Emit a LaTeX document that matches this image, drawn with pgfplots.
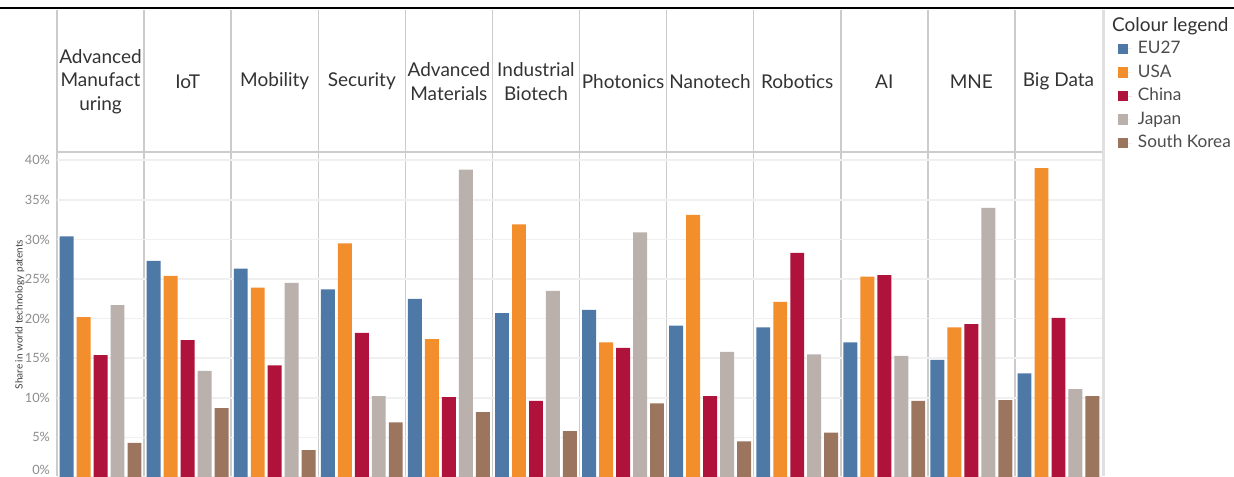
\documentclass[border=0pt]{standalone}
\usepackage{pgfplots}
\pgfplotsset{compat=1.18}
\usepackage{pgfplotstable}
\usepackage{fontspec}
\setmainfont{Lato}

\definecolor{eu}{HTML}{4E79A7}
\definecolor{us}{HTML}{F28E2B}
\definecolor{cn}{HTML}{AF123A}
\definecolor{jp}{HTML}{BAB0AC}
\definecolor{kr}{HTML}{9C755F}
\definecolor{sepgray}{HTML}{CCCCCC}
\definecolor{gridgray}{HTML}{F0F0F0}
\definecolor{tickgray}{HTML}{8C8C8C}
\definecolor{hdr}{HTML}{333333}

\pgfplotsset{sqleg/.style={legend image code/.code={%
  \fill[##1] (0pt,-2.6pt) rectangle (5.2pt,2.6pt);
  \path (0pt,0pt) -- (7.2pt,0pt);}}}

% share in world technology patents (%), one row per technology
\pgfplotstableread{
x eu us cn jp kr
0 30.4 20.2 15.4 21.7 4.3
1 27.3 25.4 17.3 13.4 8.7
2 26.3 23.9 14.1 24.5 3.4
3 23.7 29.5 18.2 10.2 6.9
4 22.5 17.4 10.1 38.8 8.2
5 20.7 31.9 9.6 23.5 5.8
6 21.1 17.0 16.3 30.9 9.3
7 19.1 33.1 10.2 15.8 4.5
8 18.9 22.1 28.3 15.5 5.6
9 17.0 25.3 25.5 15.3 9.6
10 14.8 18.9 19.3 34.0 9.7
11 13.1 39.0 20.1 11.1 10.2
}\datatable

\begin{document}
\begin{tikzpicture}[x=0.5pt,y=0.5pt]
  % top rule
  \draw[black, line width=1pt] (0,467.5) -- (1234,467.5);
  % column separators
  \foreach \k in {0,...,11}
    \draw[sepgray, line width=0.75pt] ({57+\k*87.083},466) -- ({57+\k*87.083},0);
  \draw[black!12, line width=1.5pt] (1103,466) -- (1103,0);
  \draw[sepgray, line width=0.75pt] (57,324) -- (1102,324);

  % headers
  \foreach \i/\t in {0/{Advanced\\Manufact\\uring},1/IoT,2/Mobility,3/Security,
      4/{Advanced\\Materials},5/{Industrial\\Biotech},6/Photonics,7/Nanotech,
      8/Robotics,9/AI,10/MNE,11/Big Data}
    \node[align=center, font=\fontsize{9.5}{11.75}\selectfont, text=hdr]
      at ({57+(\i+0.5)*87.083},394.5) {\t};

  \node[anchor=west, font=\fontsize{9.5}{11}\selectfont, text=hdr] at (1105,450) {Colour legend};

  \begin{axis}[
    at={(28.5pt,-0.5pt)}, anchor=south west,
    scale only axis, width=522.5pt, height=162.5pt,
    xmin=-0.5, xmax=11.5, ymin=0, ymax=41.04,
    ybar, bar width=0.16,
    xtick=\empty,
    ytick={5,10,...,40},
    extra y ticks={0},
    extra y tick style={yticklabel style={yshift=3.5pt}},
    yticklabel={\pgfmathprintnumber{\tick}\%},
    /pgf/number format/assume math mode=true,
    yticklabel style={font=\fontsize{6.4}{7}\selectfont, text=tickgray},
    major tick length=0pt,
    axis line style={draw=none},
    ymajorgrids, grid style={color=gridgray, line width=0.8pt},
    ylabel={Share in world technology patents},
    ylabel style={font=\fontsize{5}{6}\selectfont, text=black!75,
      at={(axis description cs:-0.0355,0.5)}, anchor=center},
    legend style={at={(axis description cs:1.0145,1.355)}, anchor=north west,
      draw=none, fill=none, inner sep=0pt,
      font=\fontsize{8.6}{10}\selectfont, text=black!70,
      cells={anchor=west},
      nodes={text height=6.3pt, text depth=1.6pt, inner ysep=1.95pt, inner xsep=3pt}},
  ]
    \addplot[fill=eu, draw=none, bar shift=-0.39, sqleg] table[x=x, y=eu] {\datatable};
    \addplot[fill=us, draw=none, bar shift=-0.195, sqleg] table[x=x, y=us] {\datatable};
    \addplot[fill=cn, draw=none, bar shift=0, sqleg] table[x=x, y=cn] {\datatable};
    \addplot[fill=jp, draw=none, bar shift=0.195, sqleg] table[x=x, y=jp] {\datatable};
    \addplot[fill=kr, draw=none, bar shift=0.39, sqleg] table[x=x, y=kr] {\datatable};
    \legend{EU27, USA, China, Japan, South Korea}
  \end{axis}

  \pgfresetboundingbox
  \useasboundingbox (0,0) rectangle (1234,476);
\end{tikzpicture}
\end{document}
